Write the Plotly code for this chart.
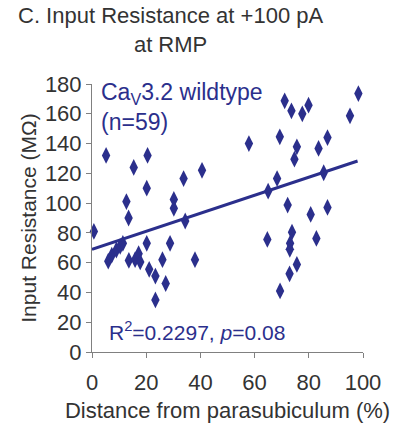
import plotly.graph_objects as go

# Distance from parasubiculum (%) and input resistance (MOhm)
distance = [0.7, 5.2, 6.0, 7.3, 9.0, 10.4, 11.4, 12.7, 13.5, 13.6, 15.4, 15.9, 17.2, 17.8,
            20.2, 20.5, 20.2, 21.1, 23.4, 23.4, 26.0, 27.2, 28.8, 30.2, 30.2, 33.8, 34.4,
            38.0, 40.6,
            57.9, 71.1, 73.6, 77.6, 79.9, 69.3, 75.6, 74.7, 83.6, 86.9, 95.2, 98.3, 68.3,
            65.0, 85.5, 72.2, 80.7, 86.9, 64.7, 73.8, 73.1, 73.0, 82.8, 75.6, 72.9, 69.4]
resistance = [81, 132, 61, 65, 68.5, 71, 73, 101, 90, 61.5, 124, 62, 66, 60.5,
              73, 132, 110, 55.5, 51, 35, 62, 46, 73, 102.5, 96.5, 116.5, 88,
              62, 122,
              140, 168.7, 162, 160, 165.8, 144.5, 137.8, 129.5, 136.7, 144, 158.6, 173.6, 116.5,
              108, 120.4, 98.7, 92.4, 97.1, 75.6, 80.5, 73, 69, 76.3, 58.8, 52.5, 41]

fit_intercept = 69.0
fit_slope = 0.605
fit_x = [0, 98]

x_ticks = [0, 20, 40, 60, 80, 100]
y_ticks = [0, 20, 40, 60, 80, 100, 120, 140, 160, 180]

navy = "#2B2F8C"
font_family = "Liberation Sans, Arial, sans-serif"

fig = go.Figure()
fig.add_trace(go.Scatter(
    x=distance, y=resistance, mode="markers",
    marker=dict(symbol="diamond-tall", size=12, color=navy),
    cliponaxis=False, showlegend=False))
fig.add_trace(go.Scatter(
    x=fit_x, y=[fit_intercept + fit_slope * v for v in fit_x], mode="lines",
    line=dict(color=navy, width=3), showlegend=False, cliponaxis=False))

fig.update_layout(
    width=397, height=423,
    margin=dict(l=92, r=34, t=84, b=71),
    paper_bgcolor="white", plot_bgcolor="white",
    font=dict(family=font_family, color="#333333", size=20),
    xaxis=dict(range=[0, 100], tickvals=x_ticks, showgrid=False, zeroline=False,
               showline=True, linecolor="#808080", linewidth=1,
               ticks="outside", ticklen=5, tickcolor="#808080",
               ticklabelstandoff=6, automargin=False,
               tickfont=dict(size=22, color="#333333"),
               title=dict(text="Distance from parasubiculum (%)", font=dict(size=22), standoff=8)),
    yaxis=dict(range=[0, 180], tickvals=y_ticks, showgrid=False, zeroline=False,
               showline=True, linecolor="#808080", linewidth=1,
               ticks="outside", ticklen=5, tickcolor="#808080",
               automargin=False,
               tickfont=dict(size=22, color="#333333"),
               title=dict(text="Input Resistance (MΩ)", font=dict(size=21), standoff=2)),
)

fig.add_annotation(text="C. Input Resistance at +100 pA<br>at RMP", xref="paper", yref="paper",
                   x=-0.28, y=1.0, yshift=83, xanchor="left", yanchor="top", showarrow=False,
                   align="center", font=dict(size=22, color="#333333"))
fig.add_annotation(text="Ca<sub>V</sub>3.2 wildtype<br>(n=59)", xref="paper", yref="paper",
                   x=0.025, y=1.0, yshift=7, xanchor="left", yanchor="top", showarrow=False,
                   align="left", font=dict(size=23, color=navy))
fig.add_annotation(text="R<sup>2</sup>=0.2297, <i>p</i>=0.08", xref="paper", yref="paper",
                   x=0.055, y=0.0, yshift=6, xanchor="left", yanchor="bottom", showarrow=False,
                   align="left", font=dict(size=21, color=navy))

fig.write_html("out.html")
